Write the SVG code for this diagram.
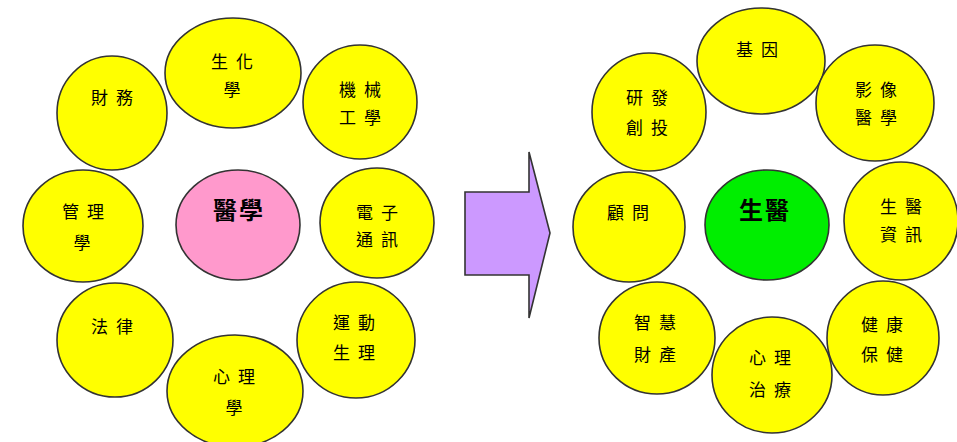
<svg xmlns="http://www.w3.org/2000/svg" width="957" height="442" viewBox="0 0 957 442">
<style>
.y{fill:#FFFF00;stroke:#333;stroke-width:1.6}
.p{fill:#FF99CC;stroke:#333;stroke-width:1.6}
.g{fill:#00EE00;stroke:#333;stroke-width:1.6}
text{font-family:"Noto Sans CJK TC","Noto Sans CJK SC",sans-serif;fill:#000;text-anchor:middle}
.t{font-size:17px;letter-spacing:8px}
.b{font-size:24px;font-weight:bold;letter-spacing:2px}
</style>
<rect width="957" height="442" fill="#fff"/>
<g id="connectors">
<path d="M465,192 H529 V152 L550,233 L529,318 V275 H465 Z" fill="#CC99FF" stroke="#333" stroke-width="1.6"/>
</g>
<g id="n-caiwu"><ellipse class="y" cx="112" cy="113" rx="55" ry="57"/><text class="t" x="116" y="104">財務</text></g>
<g id="n-shenghuaxue"><ellipse class="y" cx="233" cy="73" rx="68" ry="55"/><text class="t" x="236" y="68">生化</text><text class="t" x="236" y="96">學</text></g>
<g id="n-jixie"><ellipse class="y" cx="360" cy="102" rx="57" ry="57"/><text class="t" x="364" y="96">機械</text><text class="t" x="364" y="124">工學</text></g>
<g id="n-guanli"><ellipse class="y" cx="83" cy="226" rx="60" ry="56"/><text class="t" x="87" y="218">管理</text><text class="t" x="86" y="249">學</text></g>
<g id="n-yixue"><ellipse class="p" cx="238" cy="225" rx="62" ry="55"/><text class="b" x="239" y="219">醫學</text></g>
<g id="n-dianzi"><ellipse class="y" cx="377" cy="223" rx="57" ry="55"/><text class="t" x="381" y="219">電子</text><text class="t" x="381" y="246">通訊</text></g>
<g id="n-falv"><ellipse class="y" cx="115" cy="340" rx="58" ry="57"/><text class="t" x="116" y="333">法律</text></g>
<g id="n-xinlixue"><ellipse class="y" cx="235" cy="391" rx="68" ry="56"/><text class="t" x="238" y="383">心理</text><text class="t" x="238" y="414">學</text></g>
<g id="n-yundong"><ellipse class="y" cx="356" cy="340" rx="59" ry="58"/><text class="t" x="358" y="329">運動</text><text class="t" x="358" y="359">生理</text></g>
<g id="n-jiyin"><ellipse class="y" cx="761" cy="61" rx="64" ry="53"/><text class="t" x="761" y="56">基因</text></g>
<g id="n-yanfa"><ellipse class="y" cx="649" cy="112" rx="57" ry="59"/><text class="t" x="651" y="104">研發</text><text class="t" x="651" y="134">創投</text></g>
<g id="n-yingxiang"><ellipse class="y" cx="875" cy="103" rx="59" ry="58"/><text class="t" x="880" y="96">影像</text><text class="t" x="880" y="124">醫學</text></g>
<g id="n-guwen"><ellipse class="y" cx="629" cy="227" rx="56" ry="55"/><text class="t" x="632" y="219">顧問</text></g>
<g id="n-shengyi"><ellipse class="g" cx="767" cy="225" rx="62" ry="55"/><text class="b" x="765" y="219">生醫</text></g>
<g id="n-shengyizixun"><ellipse class="y" cx="901" cy="221" rx="57" ry="59"/><text class="t" x="905" y="213">生醫</text><text class="t" x="905" y="241">資訊</text></g>
<g id="n-zhihui"><ellipse class="y" cx="657" cy="338" rx="58" ry="56"/><text class="t" x="659" y="329">智慧</text><text class="t" x="659" y="361">財產</text></g>
<g id="n-xinlizhiliao"><ellipse class="y" cx="772" cy="375" rx="60" ry="58"/><text class="t" x="774" y="364">心理</text><text class="t" x="774" y="396">治療</text></g>
<g id="n-jiankang"><ellipse class="y" cx="883" cy="338" rx="56" ry="57"/><text class="t" x="886" y="331">健康</text><text class="t" x="886" y="361">保健</text></g>
</svg>
